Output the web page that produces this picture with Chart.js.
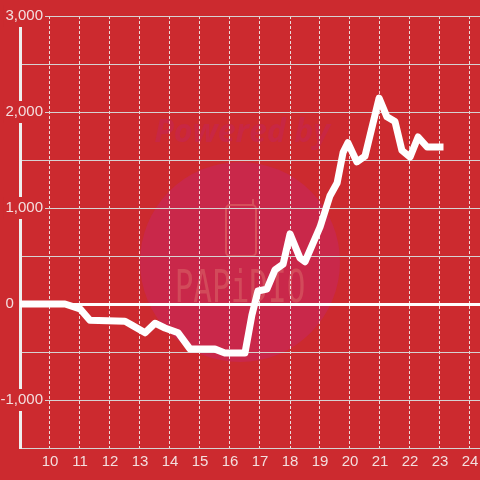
<!DOCTYPE html>
<html>
<head>
<meta charset="utf-8">
<script src="https://cdn.jsdelivr.net/npm/chart.js@4"></script>
<style>
html,body{margin:0;padding:0;background:#cc2a2f;}
#wrap{width:480px;height:480px;}
</style>
</head>
<body>
<div id="wrap"><canvas id="c" width="480" height="480"></canvas></div>
<script>
// hours of the day
const hours = [9.0, 10.5, 11.0, 11.33, 12.5, 12.73, 13.17, 13.5, 13.83, 14.27, 14.67, 15.5, 15.83, 16.5,
  16.73, 16.93, 17.23, 17.5, 17.77, 18.0, 18.33, 18.5, 19.0, 19.33, 19.57, 19.77, 19.93, 20.23, 20.5,
  20.97, 21.23, 21.5, 21.73, 22.0, 22.27, 22.57, 23.0];
// cumulative value
const values = [0, 0, -50, -170, -180, -220, -300, -200, -250, -300, -470, -470, -510, -510,
  -115, 135, 155, 355, 415, 730, 480, 440, 800, 1125, 1260, 1580, 1680, 1480, 1540,
  2145, 1950, 1900, 1600, 1530, 1740, 1635, 1635];
const xTicks = [10, 11, 12, 13, 14, 15, 16, 17, 18, 19, 20, 21, 22, 23, 24];
const yLabelTicks = [-1000, 0, 1000, 2000, 3000];

const BG = '#cc2a2f';

const bgPlugin = {
  id: 'bgwm',
  beforeDraw(chart) {
    const ctx = chart.ctx;
    ctx.save();
    ctx.fillStyle = BG;
    ctx.fillRect(0, 0, chart.width, chart.height);
    // watermark
    ctx.fillStyle = '#c9284a';
    ctx.beginPath();
    ctx.arc(240, 262, 100, 0, Math.PI * 2);
    ctx.fill();
    ctx.font = 'italic bold 32px "Open Sans", "DejaVu Sans", sans-serif';
    ctx.fillStyle = '#c82743';
    ctx.textAlign = 'center';
    ctx.textBaseline = 'middle';
    ctx.fillText('Powered by', 242, 133);
    // phone icon
    ctx.strokeStyle = '#d6505c';
    ctx.lineWidth = 2;
    const x = 226, y = 205, w = 30, h = 51, r = 4;
    ctx.beginPath();
    ctx.moveTo(x + r, y);
    ctx.lineTo(x + w - r, y);
    ctx.arcTo(x + w, y, x + w, y + r, r);
    ctx.lineTo(x + w, y + h - r);
    ctx.arcTo(x + w, y + h, x + w - r, y + h, r);
    ctx.lineTo(x + r, y + h);
    ctx.arcTo(x, y + h, x, y + h - r, r);
    ctx.lineTo(x, y + r);
    ctx.arcTo(x, y, x + r, y, r);
    ctx.stroke();
    ctx.beginPath();
    ctx.moveTo(x + w - 3, y);
    ctx.lineTo(x + w - 3, y - 6);
    ctx.stroke();
    // PAPiDIO
    ctx.save();
    ctx.translate(240, 290);
    ctx.scale(1, 1.45);
    ctx.font = '31px "DejaVu Sans Mono", monospace';
    ctx.fillStyle = '#d24a5a';
    ctx.fillText('PAPiDIO', 0, 0);
    ctx.restore();
    ctx.restore();
  }
};

const labelFont = { family: '"Liberation Sans", Arial, sans-serif', size: 15 };
const labelColor = '#f3dede';

new Chart(document.getElementById('c'), {
  type: 'line',
  data: {
    datasets: [{
      data: hours.map((h, i) => ({ x: h, y: values[i] })),
      borderColor: '#ffffff',
      borderWidth: 7,
      borderCapStyle: 'square',
      borderJoinStyle: 'round',
      pointRadius: 0,
      tension: 0,
      fill: false
    }]
  },
  options: {
    responsive: false,
    animation: false,
    events: [],
    layout: { padding: { top: 16, bottom: 4, left: 0, right: 0 } },
    plugins: { legend: { display: false }, tooltip: { enabled: false } },
    scales: {
      x: {
        type: 'linear',
        min: 9,
        max: 9 + 460 / 30,
        afterBuildTicks: s => { s.ticks = xTicks.map(v => ({ value: v })); },
        afterFit: s => { s.paddingLeft = 0; s.paddingRight = 0; },
        grid: { color: 'rgba(240,240,240,0.9)', lineWidth: 1, drawTicks: false },
        border: { display: false, dash: [3, 2] },
        ticks: { color: labelColor, font: labelFont, padding: 5, maxRotation: 0, autoSkip: false,
          callback: v => String(v) }
      },
      y: {
        min: -1500,
        max: 3000,
        afterBuildTicks: s => {
          const t = [];
          for (let v = -1500; v <= 3000; v += 500) t.push({ value: v });
          s.ticks = t;
        },
        afterFit: s => {
          s.width = 20; s.paddingTop = 0; s.paddingBottom = 0;
          const widest = s._getLabelSizes().widest.width;
          s.options.ticks.padding = 23 - widest;
        },
        grid: {
          drawTicks: false,
          color: c => c.tick && c.tick.value === 0 ? '#ffffff' : '#d6d2d2',
          lineWidth: c => c.tick && c.tick.value === 0 ? 3 : 1
        },
        border: { display: true, color: '#efefef', width: 3 },
        ticks: {
          color: labelColor,
          font: labelFont,
          mirror: true,
          crossAlign: 'far',
          padding: 0,
          showLabelBackdrop: true,
          backdropPadding: 2,
          backdropColor: c => (c.tick && yLabelTicks.includes(c.tick.value) && c.tick.value !== 0) ? BG : 'rgba(0,0,0,0)',
          callback: v => {
            if (!yLabelTicks.includes(v)) return '';
            if (v === 0) return '0       ';
            return v.toLocaleString('en-US');
          }
        }
      }
    }
  },
  plugins: [bgPlugin]
});
</script>
</body>
</html>
